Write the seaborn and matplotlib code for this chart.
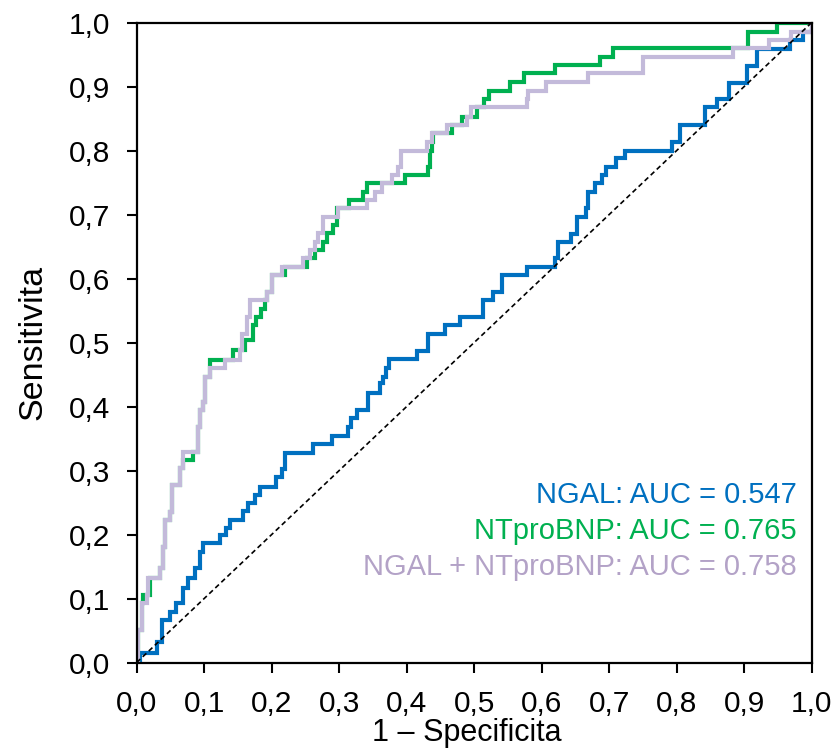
import matplotlib
matplotlib.use("Agg")
import matplotlib.pyplot as plt
import seaborn as sns
import pandas as pd

# ---- data (step corners: fpr where a jump happens, tpr after the jump) ----
ngal_fpr = [0.0, 0.005, 0.0296, 0.037, 0.049, 0.059, 0.069, 0.0765, 0.0864, 0.094,
            0.0987, 0.123, 0.133, 0.138, 0.158, 0.165, 0.175, 0.183, 0.207, 0.215,
            0.22, 0.261, 0.289, 0.313, 0.318, 0.326, 0.342, 0.36, 0.365, 0.37,
            0.374, 0.415, 0.432, 0.457, 0.479, 0.5136, 0.528, 0.541, 0.578, 0.62,
            0.6246, 0.644, 0.652, 0.6656, 0.669, 0.679, 0.69, 0.696, 0.71, 0.7234,
            0.7926, 0.805, 0.842, 0.859, 0.878, 0.9037, 0.9185, 0.968, 0.9876, 1.0]
ngal_tpr = [0.0, 0.0144, 0.0325, 0.066, 0.079, 0.0925, 0.116, 0.1316, 0.147, 0.173,
            0.186, 0.199, 0.21, 0.223, 0.236, 0.249, 0.262, 0.275, 0.29, 0.303,
            0.328, 0.342, 0.354, 0.368, 0.382, 0.395, 0.4216, 0.436, 0.4466, 0.46,
            0.474, 0.487, 0.513, 0.527, 0.54, 0.566, 0.579, 0.605, 0.618, 0.6315,
            0.6575, 0.67, 0.6966, 0.71, 0.7357, 0.749, 0.762, 0.775, 0.788, 0.80,
            0.814, 0.84, 0.8675, 0.88, 0.906, 0.932, 0.958, 0.973, 0.9856, 1.0]

nt_fpr = [0.0, 0.0025, 0.0074, 0.0099, 0.0197, 0.0345, 0.0395, 0.042, 0.0494, 0.0518,
          0.064, 0.068, 0.0839, 0.0913, 0.0938, 0.0977, 0.101, 0.1086, 0.143, 0.1605,
          0.1728, 0.1768, 0.184, 0.19, 0.1926, 0.2, 0.2198, 0.2518, 0.264, 0.2765,
          0.2815, 0.2913, 0.2963, 0.315, 0.3357, 0.3407, 0.3975, 0.432, 0.4345, 0.437,
          0.4395, 0.4667, 0.482, 0.5037, 0.5145, 0.5224, 0.553, 0.5738, 0.6197, 0.6864,
          0.706, 0.906, 0.948, 1.0]
nt_tpr = [0.0, 0.0508, 0.0925, 0.1055, 0.1315, 0.147, 0.181, 0.2227, 0.2357, 0.277,
          0.3034, 0.3164, 0.329, 0.368, 0.3945, 0.4075, 0.4466, 0.4727, 0.488, 0.504,
          0.527, 0.54, 0.553, 0.566, 0.579, 0.605, 0.618, 0.6316, 0.6445, 0.6575,
          0.6706, 0.6836, 0.7097, 0.7227, 0.7356, 0.7487, 0.762, 0.7747, 0.80, 0.813,
          0.827, 0.84, 0.853, 0.8675, 0.88, 0.8935, 0.9075, 0.9206, 0.9336, 0.9466,
          0.96, 0.9856, 1.0, 1.0]

comb_fpr = [0.0, 0.0025, 0.0074, 0.0148, 0.0172, 0.0345, 0.0395, 0.042, 0.0494, 0.0518,
            0.064, 0.068, 0.069, 0.0913, 0.0938, 0.0977, 0.101, 0.1086, 0.1308, 0.153,
            0.1556, 0.163, 0.168, 0.1926, 0.2, 0.2148, 0.2469, 0.2568, 0.264, 0.269,
            0.2756, 0.2987, 0.3417, 0.353, 0.363, 0.3778, 0.3876, 0.391, 0.4296, 0.437,
            0.4593, 0.489, 0.496, 0.578, 0.58, 0.6064, 0.669, 0.7506, 0.883, 0.937,
            0.97, 1.0]
comb_tpr = [0.0, 0.0508, 0.0925, 0.1055, 0.1315, 0.147, 0.181, 0.2227, 0.2357, 0.277,
            0.3034, 0.3164, 0.329, 0.368, 0.3945, 0.4075, 0.4466, 0.4597, 0.4727, 0.488,
            0.514, 0.54, 0.566, 0.579, 0.605, 0.618, 0.6316, 0.6445, 0.6575, 0.6706,
            0.6966, 0.7097, 0.7227, 0.7356, 0.7487, 0.762, 0.7747, 0.80, 0.813, 0.827,
            0.84, 0.853, 0.8675, 0.88, 0.8935, 0.9075, 0.9206, 0.9466, 0.96, 0.9727,
            0.9856, 1.0]

series_names = ["NGAL", "NTproBNP", "NGAL + NTproBNP"]
auc_values = ["0.547", "0.765", "0.758"]
tick_values = [0.0, 0.1, 0.2, 0.3, 0.4, 0.5, 0.6, 0.7, 0.8, 0.9, 1.0]
tick_labels = ["0,0", "0,1", "0,2", "0,3", "0,4", "0,5", "0,6", "0,7", "0,8", "0,9", "1,0"]
x_label = "1 – Specificita"
y_label = "Sensitivita"

# ---- styling ----
sns.set_style("ticks")
plt.rcParams["font.family"] = ["Liberation Sans", "DejaVu Sans"]

line_colors = ["#0070C0", "#00B050", "#C3BADA"]
text_colors = ["#0070C0", "#00B050", "#B3A2C7"]

fig = plt.figure(figsize=(8.4, 7.51), dpi=100)
ax = fig.add_axes([0.1627, 0.1178, 0.8036, 0.8522])

curves = [(ngal_fpr, ngal_tpr), (nt_fpr, nt_tpr), (comb_fpr, comb_tpr)]
for (fx, ty), name, col in zip(curves, series_names, line_colors):
    df = pd.DataFrame({"fpr": fx, "tpr": ty})
    sns.lineplot(data=df, x="fpr", y="tpr", ax=ax, estimator=None, sort=False,
                 drawstyle="steps-post", color=col, linewidth=3.0,
                 solid_joinstyle="miter")

diag = pd.DataFrame({"fpr": [0.0, 1.0], "tpr": [0.0, 1.0]})
sns.lineplot(data=diag, x="fpr", y="tpr", ax=ax, estimator=None, color="black",
             linewidth=1.2, dashes=False, linestyle=(0, (3, 2)), zorder=5)

ax.set_xlim(0, 1)
ax.set_ylim(0, 1)
ax.set_xticks(tick_values)
ax.set_xticklabels(tick_labels)
ax.set_yticks(tick_values)
ax.set_yticklabels(tick_labels)
ax.tick_params(axis="both", labelsize=21.5, length=7, width=1.5, color="black",
               labelcolor="black", direction="out")
ax.tick_params(axis="x", pad=13)
ax.tick_params(axis="y", pad=12)
ax.set_xlabel(x_label, fontsize=22, color="black")
ax.set_ylabel(y_label, fontsize=24.5, color="black")
ax.xaxis.set_label_coords(0.489, -0.087)
ax.yaxis.set_label_coords(-0.13, 0.5)
for sp in ax.spines.values():
    sp.set_visible(True)
    sp.set_linewidth(1.6)
    sp.set_color("black")

ys = [0.2617, 0.2055, 0.150]
for name, auc, col, yy in zip(series_names, auc_values, text_colors, ys):
    ax.text(0.978, yy, f"{name}: AUC = {auc}", color=col, fontsize=21,
            ha="right", va="center", transform=ax.transAxes)

fig.savefig("out.png", dpi=100)
